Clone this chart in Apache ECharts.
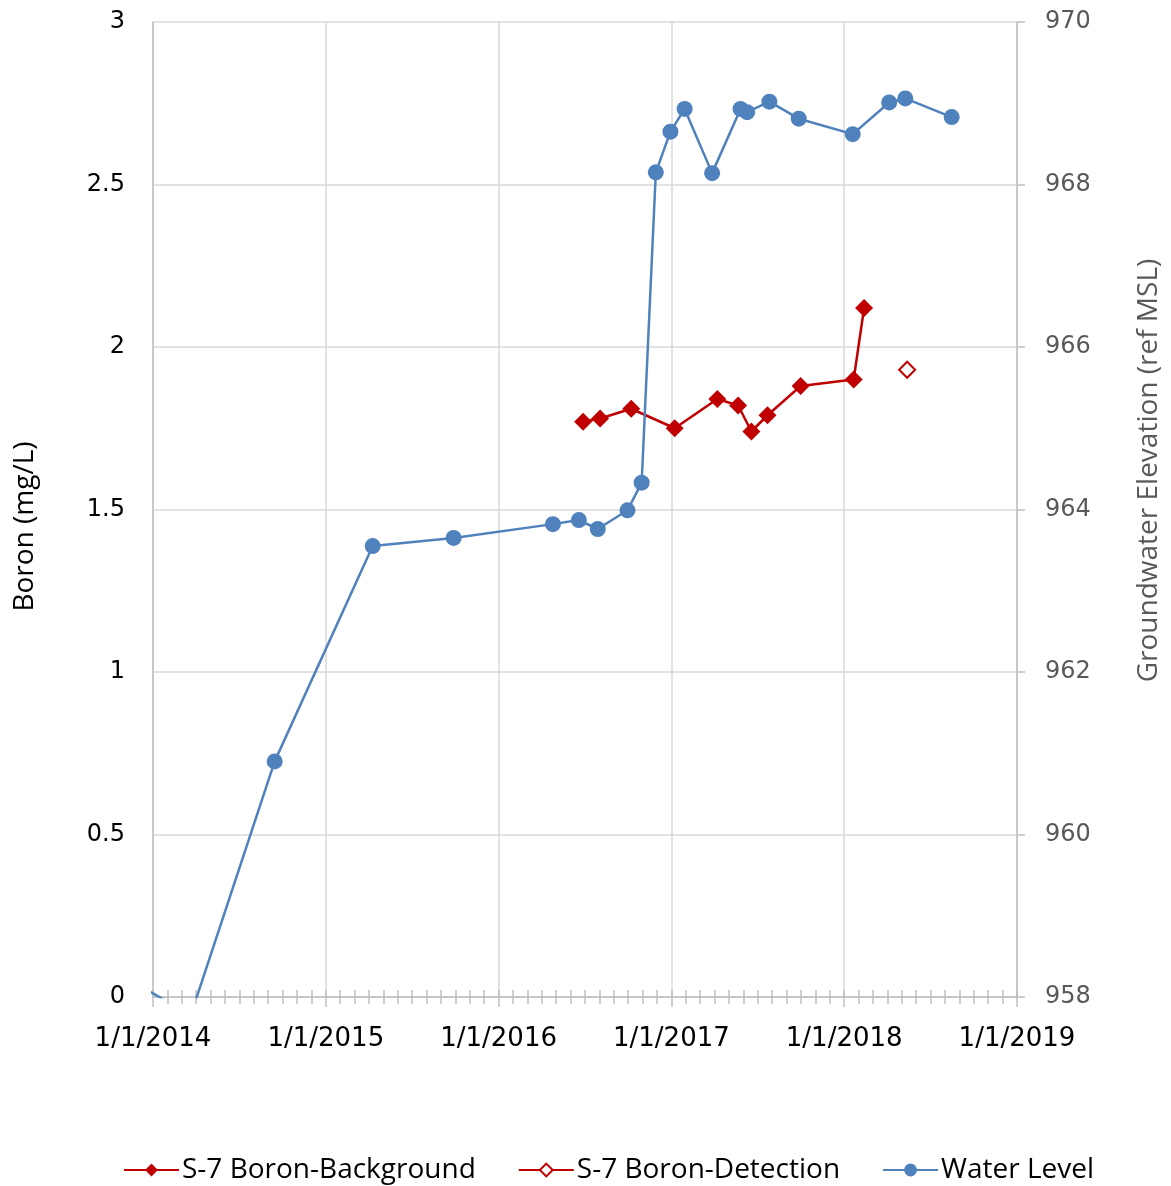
<!DOCTYPE html>
<html>
<head>
<meta charset="utf-8">
<script src="https://cdn.jsdelivr.net/npm/echarts@6/dist/echarts.min.js"></script>
<style>
  html, body { margin: 0; padding: 0; background: #fff; }
  #chart { width: 1171px; height: 1186px; }
</style>
</head>
<body>
<div id="chart"></div>
<script>
// sample dates and values
const waterDates = ['2013-12-15', '2014-03-22', '2014-09-15', '2015-04-10', '2015-09-28', '2016-04-25',
  '2016-06-19', '2016-07-29', '2016-09-30', '2016-10-30', '2016-11-29', '2016-12-30', '2017-01-29',
  '2017-03-28', '2017-05-27', '2017-06-10', '2017-07-27', '2017-09-27', '2018-01-19', '2018-04-06',
  '2018-05-10', '2018-08-16'];
const waterLevel = [958.10, 957.78, 960.90, 963.55, 963.65, 963.82, 963.87, 963.76, 963.99, 964.33,
  968.15, 968.65, 968.93, 968.14, 968.93, 968.89, 969.02, 968.81, 968.62, 969.01, 969.06, 968.83];

const boronBgDates = ['2016-06-28', '2016-08-03', '2016-10-08', '2017-01-08', '2017-04-08', '2017-05-22',
  '2017-06-19', '2017-07-23', '2017-10-01', '2018-01-21', '2018-02-12'];
const boronBg = [1.77, 1.78, 1.81, 1.75, 1.84, 1.82, 1.74, 1.79, 1.88, 1.90, 2.12];

const boronDetDates = ['2018-05-14'];
const boronDet = [1.93];

const xYears = [2014, 2015, 2016, 2017, 2018, 2019];

// date string -> fractional year so that 1/1 of each year lands on a tick
function toYear(s) {
  const p = s.split('-').map(Number);
  const t = Date.UTC(p[0], p[1] - 1, p[2]);
  const a = Date.UTC(p[0], 0, 1), b = Date.UTC(p[0] + 1, 0, 1);
  return p[0] + (t - a) / (b - a);
}
const pairs = (d, v) => d.map((s, i) => [toYear(s), v[i]]);

const tickFont = 'DejaVu Sans';
const textFont = '"Open Sans", sans-serif';
const gray = '#bfbfbf';

let myChart = echarts.init(document.getElementById('chart'));

const option = {
    animation: false,
    grid: { left: 153, right: 154, top: 22, bottom: 189 },
    xAxis: [
        {
            type: 'value',
            min: xYears[0],
            max: xYears[xYears.length - 1],
            interval: 1,
            axisLine: { show: true, onZero: false, lineStyle: { color: gray, width: 1.5 } },
            axisTick: { show: true, length: 10, lineStyle: { color: gray, width: 1.5 } },
            minorTick: { show: true, splitNumber: 12, length: 7, lineStyle: { color: gray, width: 1.5 } },
            splitLine: { show: true, lineStyle: { color: '#d9d9d9', width: 1.5 } },
            axisLabel: {
                fontFamily: tickFont, fontSize: 26, color: '#000', margin: 29,
                formatter: v => '1/1/' + v
            }
        },
        {
            // second copy gives the ticks their inner half
            type: 'value',
            position: 'bottom',
            min: xYears[0],
            max: xYears[xYears.length - 1],
            interval: 1,
            axisLine: { show: false, onZero: false },
            axisTick: { show: true, inside: true, length: 7, lineStyle: { color: gray, width: 1.5 } },
            minorTick: { show: true, splitNumber: 12, length: 7, lineStyle: { color: gray, width: 1.5 } },
            splitLine: { show: false },
            axisLabel: { show: false }
        }
    ],
    yAxis: [
        {
            type: 'value',
            min: 0, max: 3, interval: 0.5,
            name: 'Boron (mg/L)',
            nameLocation: 'middle',
            nameGap: 114,
            nameRotate: 90,
            nameTextStyle: { fontFamily: textFont, fontSize: 28, color: '#000', padding: [0, 34, 0, 0] },
            axisLine: { show: true, lineStyle: { color: gray, width: 1.5 } },
            axisTick: { show: false },
            splitLine: { lineStyle: { color: '#d9d9d9', width: 1.5 } },
            axisLabel: { fontFamily: tickFont, fontSize: 24, color: '#000', margin: 28 }
        },
        {
            type: 'value',
            position: 'right',
            min: 958, max: 970, interval: 2,
            name: 'Groundwater Elevation (ref MSL)',
            nameLocation: 'middle',
            nameGap: 118,
            nameRotate: 90,
            nameTextStyle: { fontFamily: textFont, fontSize: 28, color: '#595959', padding: [0, 0, 0, 78] },
            axisLine: { show: true, lineStyle: { color: gray, width: 1.5 } },
            axisTick: { show: true, length: 8, lineStyle: { color: gray, width: 1.5 } },
            splitLine: { show: false },
            axisLabel: { fontFamily: tickFont, fontSize: 24, color: '#595959', margin: 28 }
        }
    ],
    legend: {
        top: 1151,
        left: 118,
        itemWidth: 55,
        itemHeight: 16,
        itemGap: 42,
        textStyle: { fontFamily: textFont, fontSize: 28, color: '#000', padding: [0, 0, 0, -2] },
        data: ['S-7 Boron-Background', 'S-7 Boron-Detection', 'Water Level']
    },
    series: [
        {
            name: 'S-7 Boron-Background',
            type: 'line',
            data: pairs(boronBgDates, boronBg),
            symbol: 'diamond',
            symbolSize: 18,
            color: '#c00000',
            lineStyle: { width: 2.5, color: '#c00000' }
        },
        {
            name: 'S-7 Boron-Detection',
            type: 'line',
            data: pairs(boronDetDates, boronDet),
            symbol: 'emptyDiamond',
            symbolSize: 16,
            color: '#c00000',
            itemStyle: { borderWidth: 2 },
            lineStyle: { width: 2.5, color: '#c00000' }
        },
        {
            name: 'Water Level',
            type: 'line',
            yAxisIndex: 1,
            data: pairs(waterDates, waterLevel),
            symbol: 'circle',
            symbolSize: 16,
            color: '#4f81bd',
            lineStyle: { width: 2.5, color: '#4f81bd' }
        }
    ]
};

myChart.setOption(option);
</script>
</body>
</html>
